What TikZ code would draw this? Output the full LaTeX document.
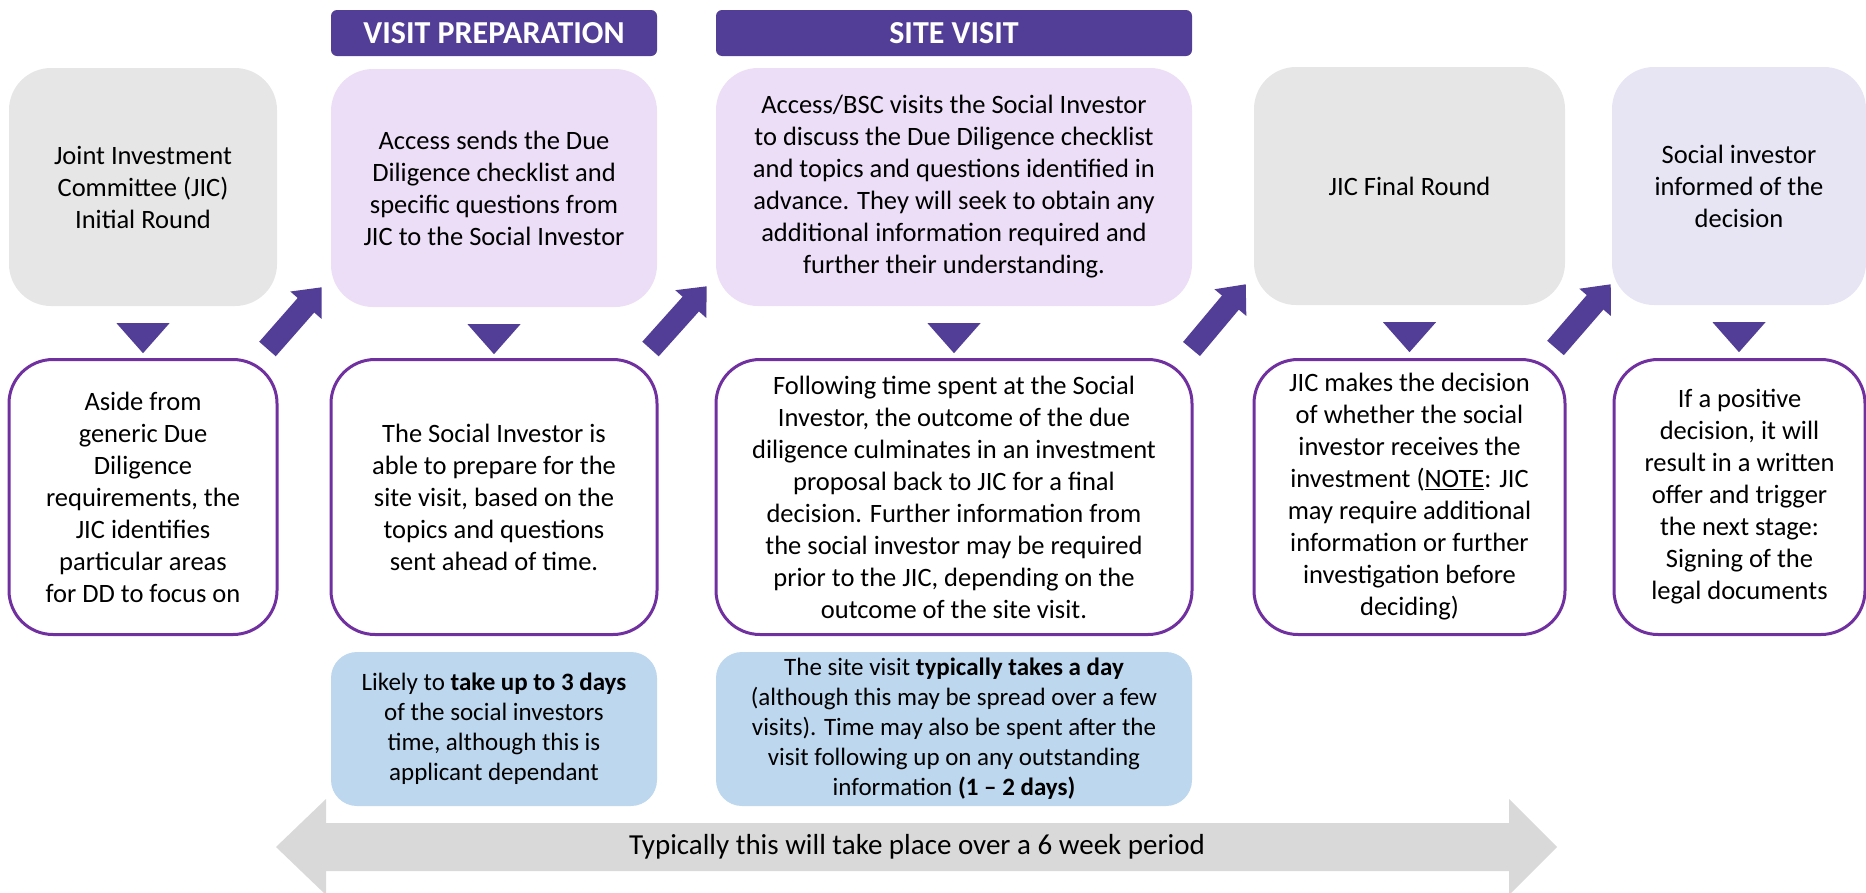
\documentclass[tikz,border=0pt]{standalone}
\usepackage{fontspec}
\setmainfont{Carlito}
\usetikzlibrary{arrows.meta,calc}
\definecolor{hdrpurple}{RGB}{82,62,150}
\definecolor{edgepurple}{RGB}{112,48,160}
\definecolor{stagegray}{RGB}{230,230,230}
\definecolor{stagelilac}{RGB}{236,222,246}
\definecolor{stagemauve}{RGB}{231,228,244}
\definecolor{noteblue}{RGB}{189,215,238}
\definecolor{spangray}{RGB}{217,217,217}
\begin{document}
\begin{tikzpicture}[x=1pt,y=-1pt,
  body/.style={font=\fontsize{26.5}{32}\selectfont, align=center, inner sep=0pt, text=black},
  stagebox/.style={body, rounded corners=42pt, minimum height=238pt},
  detailbox/.style={body, draw=edgepurple, line width=3pt, fill=white, rounded corners=44pt, minimum height=275pt},
  notebox/.style={font=\fontsize{25}{30}\selectfont, align=center, inner sep=0pt, fill=noteblue, rounded corners=26pt, minimum height=154pt},
  phasebar/.style={font=\fontsize{32}{36}\selectfont\bfseries, text=white, fill=hdrpurple, rounded corners=6pt, minimum height=46pt, inner sep=0pt},
  stepjump/.style={hdrpurple, line width=22pt, -{Triangle[length=24pt,width=40pt]}},
  pointer/.style={fill=hdrpurple}
]
\useasboundingbox (0,0) rectangle (1866,892);
\clip (0,0) rectangle (1866,892);

% phase headers
\node[phasebar, minimum width=326pt] (h1) at (494,33) {VISIT PREPARATION};
\node[phasebar, minimum width=476pt] (h2) at (954,33) {SITE VISIT};

% upper row: the stages
\node[stagebox, fill=stagegray, minimum width=268pt] (t1) at (143,187)
  {Joint Investment\\Committee (JIC)\\Initial Round};
\node[stagebox, fill=stagelilac, minimum width=326pt] (t2) at (494,188)
  {Access sends the Due\\Diligence checklist and\\specific questions from\\JIC to the Social Investor};
\node[stagebox, fill=stagelilac, minimum width=476pt] (t3) at (954,187)
  {Access/BSC visits the Social Investor\\to discuss the Due Diligence checklist\\and topics and questions identified in\\advance. They will seek to obtain any\\additional information required and\\further their understanding.};
\node[stagebox, fill=stagegray, minimum width=311pt] (t4) at (1409.5,186)
  {JIC Final Round};
\node[stagebox, fill=stagemauve, minimum width=254pt] (t5) at (1739,186)
  {Social investor\\informed of the\\decision};

% lower row: what happens at each stage
\node[detailbox, minimum width=268pt] (b1) at (143,497)
  {Aside from\\generic Due\\Diligence\\requirements, the\\JIC identifies\\particular areas\\for DD to focus on};
\node[detailbox, minimum width=326pt] (b2) at (494,497)
  {The Social Investor is\\able to prepare for the\\site visit, based on the\\topics and questions\\sent ahead of time.};
\node[detailbox, minimum width=476pt] (b3) at (954,497)
  {Following time spent at the Social\\Investor, the outcome of the due\\diligence culminates in an investment\\proposal back to JIC for a final\\decision. Further information from\\the social investor may be required\\prior to the JIC, depending on the\\outcome of the site visit.};
\node[detailbox, minimum width=311pt] (b4) at (1409.5,497)
  {JIC makes the decision\\of whether the social\\investor receives the\\investment (\underline{NOTE}: JIC\\may require additional\\information or further\\investigation before\\deciding)};
\node[detailbox, minimum width=251pt] (b5) at (1739.5,497)
  {If a positive\\decision, it will\\result in a written\\offer and trigger\\the next stage:\\Signing of the\\legal documents};

% time notes
\node[notebox, minimum width=326pt] (n2) at (494,729)
  {Likely to \textbf{take up to 3 days}\\of the social investors\\time, although this is\\applicant dependant};
\node[notebox, minimum width=476pt] (n3) at (954,729)
  {The site visit \textbf{typically takes a day}\\(although this may be spread over a few\\visits). Time may also be spent after the\\visit following up on any outstanding\\information \textbf{(1 – 2 days)}};

% pointers from each stage to its detail
\foreach \s in {1,...,5}{
  \fill[hdrpurple] ($(t\s.south)+(-26.5,17)$) -- ($(t\s.south)+(26.5,17)$)
    -- ($(t\s.south)+(0,47)$) -- cycle;
}

% jumps from one stage to the next
\draw[stepjump] ($(b1.north east)+(-11,-9)$) -- ($(t2.south west)+(-9,-20)$);
\draw[stepjump] ($(b2.north east)+(-8,-9)$) -- ($(t3.south west)+(-9,-20)$);
\draw[stepjump] ($(b3.north east)+(-2,-9)$) -- ($(t4.south west)+(-8,-21)$);
\draw[stepjump] ($(b4.north east)+(-11,-10)$) -- ($(t5.south west)+(-1,-21)$);

% overall duration
\fill[spangray] (276,847) -- (326,799) -- (326,823) -- (1509,823) -- (1509,799)
  -- (1557,847) -- (1509,895) -- (1509,871) -- (326,871) -- (326,895) -- cycle;
\node[body, font=\fontsize{29}{34}\selectfont] (span) at (917,847) {Typically this will take place over a 6 week period};
\end{tikzpicture}
\end{document}
